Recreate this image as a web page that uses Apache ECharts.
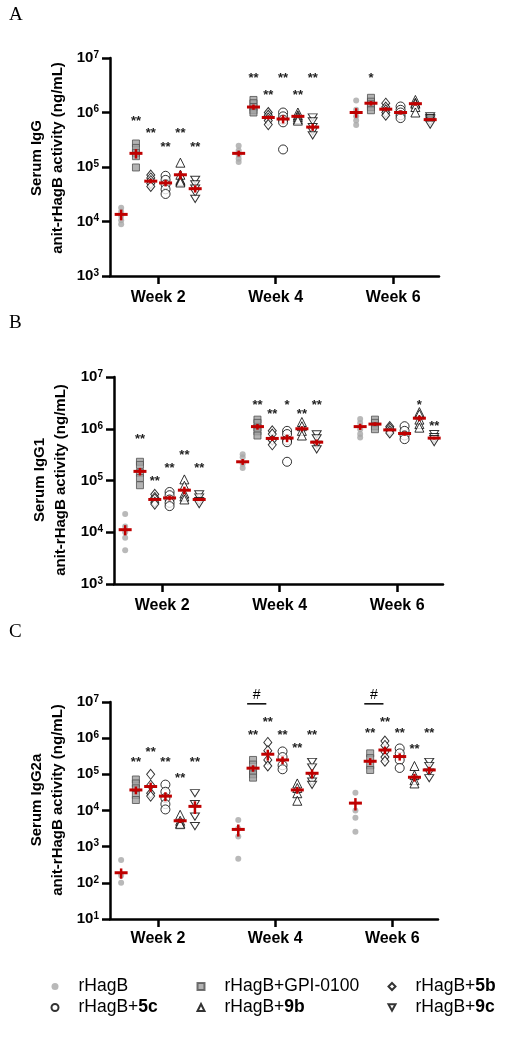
<!DOCTYPE html>
<html><head><meta charset="utf-8">
<script src="https://cdn.jsdelivr.net/npm/echarts@6/dist/echarts.min.js"></script>
<style>html,body{margin:0;padding:0;background:#fff}#c{width:516px;height:1050px}</style>
</head><body><div id="c"></div>
<script>
// ---------------- DATA ----------------
const weeks = [2, 4, 6];
const weekLabels = ['Week 2', 'Week 4', 'Week 6'];
const groups = ['rHagB', 'rHagB+GPI-0100', 'rHagB+5b', 'rHagB+5c', 'rHagB+9b', 'rHagB+9c'];
const legendParts = [['rHagB', ''], ['rHagB+GPI-0100', ''], ['rHagB+', '5b'], ['rHagB+', '5c'], ['rHagB+', '9b'], ['rHagB+', '9c']];

// Panel A: Serum IgG  [week][group] -> values (ng/mL)
const iggPoints = [
  [[1.78e4, 1.51e4, 1.26e4, 1.05e4, 8.9e3], [2.7e5, 2.24e5, 1.82e5, 1.58e5, 9.8e4], [7.1e4, 6.3e4, 5.6e4, 5.0e4, 4.4e4],
   [6.9e4, 5.8e4, 4.8e4, 3.9e4, 3.2e4], [1.2e5, 7.2e4, 5.8e4, 5.5e4, 5.2e4], [5.8e4, 4.8e4, 4.0e4, 3.4e4, 2.6e4]],
  [[2.45e5, 2.0e5, 1.66e5, 1.41e5, 1.23e5], [1.7e6, 1.48e6, 1.26e6, 1.1e6, 1.0e6], [1.0e6, 8.9e5, 7.9e5, 7.1e5, 6.0e5],
   [1.0e6, 8.5e5, 7.4e5, 6.6e5, 2.1e5], [1.0e6, 8.9e5, 8.3e5, 7.6e5, 7.1e5], [8.1e5, 6.9e5, 5.4e5, 4.5e5, 3.8e5]],
  [[1.66e6, 1.12e6, 8.5e5, 7.1e5, 5.9e5], [1.86e6, 1.58e6, 1.41e6, 1.26e6, 1.1e6], [1.48e6, 1.26e6, 1.12e6, 1.0e6, 8.9e5],
   [1.29e6, 1.12e6, 1.0e6, 8.9e5, 7.9e5], [1.7e6, 1.51e6, 1.45e6, 1.26e6, 1.0e6], [8.5e5, 7.9e5, 7.4e5, 6.8e5, 6.0e5]]
];
const iggMean = [[1.35e4, 1.78e5, 5.5e4, 5.1e4, 7.2e4, 4.0e4], [1.78e5, 1.26e6, 8.1e5, 7.6e5, 8.5e5, 5.4e5], [1.0e6, 1.48e6, 1.15e6, 1.0e6, 1.45e6, 7.4e5]];
const iggSem = [[3e3, 3.5e4, 5e3, 7e3, 1.3e4, 6e3], [2.2e4, 1.4e5, 7e4, 1.3e5, 5e4, 8e4], [2e5, 1.4e5, 1e5, 9e4, 1.2e5, 4e4]];
const iggStarText = [['', '**', '**', '**', '**', '**'], ['', '**', '**', '**', '**', '**'], ['', '*', '', '', '', '']];
const iggStarY = [[0, 7.9e5, 4.7e5, 2.6e5, 4.7e5, 2.6e5], [0, 4.7e6, 2.3e6, 4.7e6, 2.3e6, 4.7e6], [0, 4.7e6, 0, 0, 0, 0]];

// Panel B: Serum IgG1
const igg1Points = [
  [[2.24e4, 1.29e4, 1.0e4, 7.8e3, 4.5e3], [2.3e5, 2.0e5, 1.41e5, 1.12e5, 8.1e4], [5.4e4, 4.7e4, 4.4e4, 3.8e4, 3.5e4],
   [6.0e4, 5.2e4, 4.3e4, 3.7e4, 3.2e4], [1.05e5, 7.9e4, 5.6e4, 4.9e4, 4.3e4], [5.4e4, 4.7e4, 4.0e4, 3.5e4]],
  [[3.2e5, 2.8e5, 2.1e5, 1.74e5], [1.5e6, 1.3e6, 1.05e6, 8.9e5, 7.4e5], [9.1e5, 7.9e5, 6.0e5, 4.9e5],
   [9.1e5, 7.9e5, 6.0e5, 5.5e5, 2.3e5], [1.35e6, 1.12e6, 9.1e5, 7.4e5], [7.8e5, 6.5e5, 4.9e5, 4.0e5]],
  [[1.55e6, 1.29e6, 9.8e5, 7.9e5, 6.8e5], [1.5e6, 1.3e6, 1.12e6, 9.8e5], [1.1e6, 1.02e6, 9.1e5, 8.3e5],
   [1.12e6, 9.1e5, 7.4e5, 6.3e5], [2.1e6, 1.9e6, 1.5e6, 1.23e6, 1.05e6], [7.9e5, 6.9e5, 6.3e5, 5.5e5]]
];
const igg1Mean = [[1.12e4, 1.5e5, 4.3e4, 4.6e4, 6.5e4, 4.3e4], [2.3e5, 1.1e6, 6.5e5, 6.6e5, 1.0e6, 5.5e5], [1.1e6, 1.23e6, 9.5e5, 8.1e5, 1.6e6, 6.6e5]];
const igg1Sem = [[2.5e3, 2.5e4, 3e3, 5e3, 1.1e4, 3e3], [3e4, 1.4e5, 7e4, 1.1e5, 1.1e5, 7e4], [1.5e5, 1e5, 4e4, 8e4, 2e5, 4e4]];
const igg1StarText = [['', '**', '**', '**', '**', '**'], ['', '**', '**', '*', '**', '**'], ['', '', '', '', '*', '**']];
const igg1StarY = [[0, 7.1e5, 1.1e5, 1.95e5, 3.5e5, 1.95e5], [0, 3.2e6, 2.2e6, 3.2e6, 2.2e6, 3.2e6], [0, 0, 0, 0, 3.2e6, 1.26e6]];

// Panel C: Serum IgG2a
const igg2aPoints = [
  [[430, 160, 100], [7.2e4, 5.6e4, 4.1e4, 2.7e4, 1.95e4], [1.0e5, 5.0e4, 3.0e4, 2.5e4],
   [5.2e4, 3.3e4, 2.2e4, 1.5e4, 1.07e4], [7.6e3, 5.2e3, 4.5e3, 4.2e3], [3.0e4, 1.5e4, 6.8e3, 3.7e3]],
  [[5.5e3, 3.2e3, 1.9e3, 460], [2.5e5, 1.86e5, 1.26e5, 1.0e5, 8.1e4], [7.6e5, 4.5e5, 2.5e5, 1.7e5],
   [4.3e5, 3.0e5, 1.78e5, 1.38e5], [5.6e4, 4.2e4, 3.0e4, 1.86e4], [2.2e5, 1.55e5, 8.9e4, 6.3e4, 5.1e4]],
  [[3.1e4, 1.0e4, 6.3e3, 2.6e3], [3.8e5, 2.8e5, 1.78e5, 1.32e5], [8.3e5, 6.3e5, 4.2e5, 3.0e5, 2.3e5],
   [5.2e5, 3.8e5, 2.5e5, 1.5e5], [1.7e5, 9.5e4, 6.9e4, 5.6e4], [2.2e5, 1.7e5, 1.12e5, 7.8e4]]
];
const igg2aMean = [[190, 3.7e4, 4.6e4, 2.5e4, 5.2e3, 1.3e4], [3.0e3, 1.48e5, 3.6e5, 2.5e5, 3.7e4, 1.07e5], [1.6e4, 2.3e5, 4.7e5, 3.1e5, 8.3e4, 1.32e5]];
const igg2aSem = [[60, 9e3, 1.3e4, 7e3, 7e2, 5e3], [1.1e3, 3e4, 1.2e5, 6e4, 8e3, 3e4], [6e3, 5e4, 1.1e5, 7e4, 2e4, 3e4]];
const igg2aStarText = [['', '**', '**', '**', '**', '**'], ['', '**', '**', '**', '**', '**'], ['', '**', '**', '**', '**', '**']];
const igg2aStarY = [[0, 2.6e5, 5.0e5, 2.6e5, 9.5e4, 2.6e5], [0, 1.4e6, 3.2e6, 1.4e6, 6.2e5, 1.4e6], [0, 1.6e6, 3.2e6, 1.6e6, 6.0e5, 1.6e6]];
// '#' comparison (GPI-0100 vs 5b) at weeks 4 and 6
const igg2aHashWeeks = [4, 6];
const igg2aHashGroups = [1, 2];
const igg2aHashY = [8.9e6, 8.9e6];

// ---------------- LAYOUT / STYLE ----------------
const FONT = 'Liberation Sans, Arial, sans-serif';
const RED = '#bf0000';
const groupStep = 0.252;
const offset = g => (g - 2.5) * groupStep;

const panels = [
  {letter: 'A', title: 'Serum IgG', pts: iggPoints, mean: iggMean, sem: iggSem, st: iggStarText, sy: iggStarY, yMin: 1e3, yMax: 1e7,
   grid: {left: 110, top: 58, width: 329, height: 218}, letterY: 6, titleX: 47.5, titleY: 158, labelMargin: 14},
  {letter: 'B', title: 'Serum IgG1', pts: igg1Points, mean: igg1Mean, sem: igg1Sem, st: igg1StarText, sy: igg1StarY, yMin: 1e3, yMax: 1e7,
   grid: {left: 114, top: 377, width: 329, height: 207}, letterY: 314, titleX: 50, titleY: 480, labelMargin: 14},
  {letter: 'C', title: 'Serum IgG2a', pts: igg2aPoints, mean: igg2aMean, sem: igg2aSem, st: igg2aStarText, sy: igg2aStarY, yMin: 10, yMax: 1e7,
   grid: {left: 110, top: 702, width: 328, height: 217}, letterY: 623, titleX: 47.5, titleY: 800, labelMargin: 12}
];

const symbolStyles = [
  {symbol: 'circle', symbolSize: 6, itemStyle: {color: '#a8a8a8', borderWidth: 0}},
  {symbol: 'rect', symbolSize: 7, itemStyle: {color: '#a0a0a0', borderColor: '#505050', borderWidth: 1}},
  {symbol: 'diamond', symbolSize: [8, 10], itemStyle: {color: '#fff', borderColor: '#000', borderWidth: 1}},
  {symbol: 'circle', symbolSize: 9, itemStyle: {color: '#fff', borderColor: '#000', borderWidth: 1}},
  {symbol: 'triangle', symbolSize: [9, 9], itemStyle: {color: '#fff', borderColor: '#000', borderWidth: 1}},
  {symbol: 'path://M0,0L10,0L5,9Z', symbolSize: [9, 8], itemStyle: {color: '#fff', borderColor: '#000', borderWidth: 1}}
];

const grids = [], xAxes = [], yAxes = [], series = [], graphics = [];

panels.forEach((p, pi) => {
  grids.push(Object.assign({}, p.grid));
  xAxes.push({
    gridIndex: pi, type: 'value', min: 1.18, max: 6.78,
    axisLine: {show: true, lineStyle: {color: '#000', width: 2.5}},
    axisTick: {show: true, customValues: weeks, length: 8, lineStyle: {color: '#000', width: 2.5}},
    axisLabel: {show: true, customValues: weeks, margin: p.labelMargin, color: '#000', fontSize: 16, fontWeight: 'bold', fontFamily: FONT,
      formatter: v => weekLabels[weeks.indexOf(v)]},
    splitLine: {show: false}
  });
  yAxes.push({
    gridIndex: pi, type: 'log', logBase: 10, min: p.yMin, max: p.yMax,
    axisLine: {show: true, lineStyle: {color: '#000', width: 2.5}},
    axisTick: {show: true, length: 8, lineStyle: {color: '#000', width: 2.5}},
    axisLabel: {show: true, margin: 11, color: '#000', fontFamily: FONT,
      formatter: v => '{b|10}{s|' + Math.round(Math.log10(v)) + '}',
      rich: {b: {fontSize: 15, fontWeight: 'bold', fontFamily: FONT, color: '#000', lineHeight: 16},
             s: {fontSize: 10, fontWeight: 'bold', fontFamily: FONT, color: '#000', lineHeight: 10, verticalAlign: 'top'}}},
    splitLine: {show: false}, minorTick: {show: false}
  });

  // individual points
  groups.forEach((g, gi) => {
    const data = [];
    weeks.forEach((w, wi) => { p.pts[wi][gi].forEach(v => data.push([w + offset(gi), v])); });
    series.push(Object.assign({
      type: 'scatter', name: g, xAxisIndex: pi, yAxisIndex: pi, data: data, z: 2 + gi * 0.01, silent: true, animation: false,
      symbolKeepAspect: true
    }, symbolStyles[gi]));
  });

  // means with error bars
  const md = [];
  weeks.forEach((w, wi) => groups.forEach((g, gi) => md.push([w + offset(gi), p.mean[wi][gi], p.sem[wi][gi]])));
  series.push({
    type: 'custom', xAxisIndex: pi, yAxisIndex: pi, data: md, z: 5, silent: true, animation: false,
    encode: {x: 0, y: 1},
    renderItem: (params, api) => {
      const x = api.value(0), m = api.value(1), s = api.value(2);
      const c = api.coord([x, m]);
      const t = api.coord([x, m + s]);
      const b = api.coord([x, Math.max(m - s, m * 0.05)]);
      return {type: 'group', children: [
        {type: 'line', shape: {x1: c[0], y1: t[1], x2: c[0], y2: b[1]}, style: {stroke: RED, lineWidth: 2.5}},
        {type: 'line', shape: {x1: c[0] - 6.5, y1: c[1], x2: c[0] + 6.5, y2: c[1]}, style: {stroke: RED, lineWidth: 3}}
      ]};
    }
  });

  // significance stars
  const sd = [], stext = [];
  weeks.forEach((w, wi) => groups.forEach((g, gi) => {
    if (p.st[wi][gi]) { sd.push([w + offset(gi), p.sy[wi][gi]]); stext.push(p.st[wi][gi]); }
  }));
  series.push({
    type: 'custom', xAxisIndex: pi, yAxisIndex: pi, data: sd, z: 6, silent: true, animation: false, clip: false,
    encode: {x: 0, y: 1},
    renderItem: (params, api) => {
      const c = api.coord([api.value(0), api.value(1)]);
      return {type: 'text', x: c[0], y: c[1] + 3, style: {text: stext[params.dataIndex], align: 'center', verticalAlign: 'middle',
        fontSize: 13, fontWeight: 'bold', fontFamily: FONT, fill: '#222'}};
    }
  });

  graphics.push({type: 'text', left: 9, top: p.letterY, style: {text: p.letter, fontSize: 19, fontFamily: 'Liberation Serif, Times New Roman, serif', fill: '#000'}});
  graphics.push({type: 'text', x: p.titleX, y: p.titleY, rotation: Math.PI / 2,
    style: {text: p.title + '\nanit-rHagB activity (ng/mL)', align: 'center', verticalAlign: 'middle', fontSize: 15, fontWeight: 'bold',
      fontFamily: FONT, fill: '#000', lineHeight: 21}});
});

// '#' markers in panel C
const hd = igg2aHashWeeks.map((w, i) => [w + offset(igg2aHashGroups[0]) - 0.4 * groupStep, w + offset(igg2aHashGroups[1]) - 0.1 * groupStep, igg2aHashY[i]]);
series.push({
  type: 'custom', xAxisIndex: 2, yAxisIndex: 2, data: hd, z: 6, silent: true, animation: false, clip: false,
  encode: {x: [0, 1], y: 2},
  renderItem: (params, api) => {
    const a = api.coord([api.value(0), api.value(2)]);
    const b = api.coord([api.value(1), api.value(2)]);
    return {type: 'group', children: [
      {type: 'line', shape: {x1: a[0], y1: a[1], x2: b[0], y2: b[1]}, style: {stroke: '#000', lineWidth: 1.5}},
      {type: 'text', x: (a[0] + b[0]) / 2, y: a[1] - 2, style: {text: '#', align: 'center', verticalAlign: 'bottom', fontSize: 14, fontFamily: FONT, fill: '#000'}}
    ]};
  }
});

const legendCols = [[0, 3], [1, 4], [2, 5]];
const legendSymbolX = [54, 200, 391];
const legends = legendCols.map((col, ci) => ({
  data: col.map(i => groups[i]), orient: 'vertical', left: legendSymbolX[ci] - 3.5, top: 976, padding: 0,
  itemWidth: 7, itemHeight: 7, itemGap: 0, selectedMode: false, symbolKeepAspect: true,
  formatter: name => { const lp = legendParts[groups.indexOf(name)]; return '{p| }{n|' + lp[0] + '}' + (lp[1] ? '{b|' + lp[1] + '}' : ''); },
  textStyle: {color: '#000', fontFamily: FONT, fontSize: 17.5, lineHeight: 21,
    rich: {p: {width: 15, fontSize: 17.5, lineHeight: 21},
           n: {fontSize: 17.5, fontFamily: FONT, color: '#000', lineHeight: 21},
           b: {fontSize: 17.5, fontWeight: 'bold', fontFamily: FONT, color: '#000', lineHeight: 21}}}
}));

const chart = echarts.init(document.getElementById('c'), null, {renderer: 'canvas', width: 516, height: 1050});
chart.setOption({
  backgroundColor: '#fff', animation: false,
  grid: grids, xAxis: xAxes, yAxis: yAxes, series: series, legend: legends, graphic: graphics
});
</script></body></html>
